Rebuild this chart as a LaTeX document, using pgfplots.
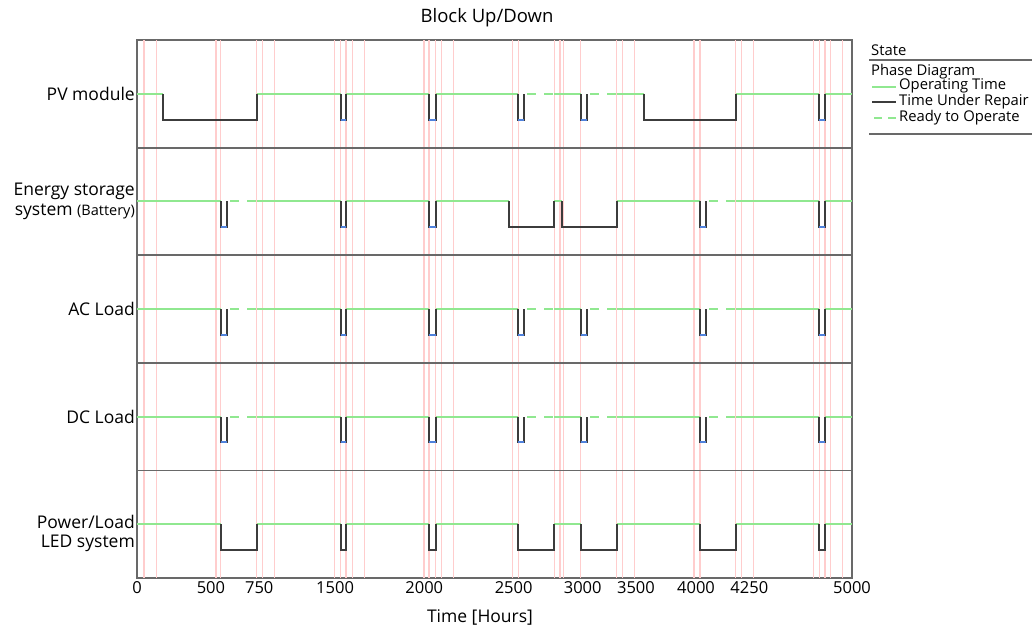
\documentclass[border=0pt]{standalone}
\usepackage{fontspec}
\setmainfont{Open Sans}
\usepackage{pgfplots}
\pgfplotsset{compat=1.18}

\definecolor{opgreen}{RGB}{144,232,144}
\definecolor{repair}{RGB}{60,60,60}
\definecolor{pmblue}{RGB}{80,130,220}
\definecolor{pinkgrid}{RGB}{255,205,205}
\definecolor{divgray}{RGB}{105,105,105}

\begin{document}
\begin{tikzpicture}[x=1pt,y=1pt]
\useasboundingbox (0,0) rectangle (1032,627);
\begin{axis}[
    at={(137pt,49pt)}, anchor=south west,
    width=715pt, height=538pt, scale only axis,
    xmin=0, xmax=5000, ymin=0, ymax=5,
    axis line style={draw=divgray, line width=1.6pt},
    xtick={0,517,855,1385,2009,2634,3117,3489,3909,4282,5000},
    xticklabels={0,500,750,1500,2000,2500,3000,3500,4000,4250,5000},
    xticklabel style={font=\fontsize{16.5}{19}\selectfont},
    /pgf/number format/assume math mode=true,
    ytick={4.5,3.5,2.5,1.5,0.416},
    yticklabels={PV module,{Energy storage\\system {\fontsize{14.5}{16}\selectfont(Battery)}},AC Load,DC Load,{Power/Load\\LED system}},
    yticklabel style={align=right, font=\fontsize{17.5}{19.5}\selectfont, inner sep=2pt},
    major tick length=0pt,
    extra x ticks={49,138,552,585,837,879,963,1382,1424,1462,1508,1590,2007,2042,2089,2131,2212,2627,2666,2918,2958,2981,3103,3354,3396,3478,3895,3937,4187,4229,4310,4729,4771,4811,4851,4935},
    extra x tick labels={},
    extra x tick style={grid=major, major grid style={pinkgrid, line width=1.4pt}},
    extra y ticks={1,2,3,4},
    extra y tick labels={},
    extra y tick style={grid=major, major grid style={divgray, line width=1.8pt}},
    unbounded coords=jump,
]
% operating time
\addplot[opgreen, line width=2pt] coordinates {
 (0,4.5) (180,4.5) (0,nan) (837,4.5) (1424,4.5) (0,nan) (1462,4.5) (2042,4.5) (0,nan)
 (2089,4.5) (2666,4.5) (0,nan) (2918,4.5) (3103,4.5) (0,nan) (3354,4.5) (3546,4.5) (0,nan)
 (4187,4.5) (4771,4.5) (0,nan) (4811,4.5) (5000,4.5) (0,nan)
 (0,3.5) (585,3.5) (0,nan) (837,3.5) (1424,3.5) (0,nan) (1462,3.5) (2042,3.5) (0,nan)
 (2089,3.5) (2601,3.5) (0,nan) (2918,3.5) (2974,3.5) (0,nan) (3354,3.5) (3937,3.5) (0,nan)
 (4187,3.5) (4771,3.5) (0,nan) (4811,3.5) (5000,3.5) (0,nan)
 (0,2.5) (585,2.5) (0,nan) (837,2.5) (1424,2.5) (0,nan) (1462,2.5) (2042,2.5) (0,nan)
 (2089,2.5) (2666,2.5) (0,nan) (2918,2.5) (3103,2.5) (0,nan) (3354,2.5) (3937,2.5) (0,nan)
 (4187,2.5) (4771,2.5) (0,nan) (4811,2.5) (5000,2.5) (0,nan)
 (0,1.5) (585,1.5) (0,nan) (837,1.5) (1424,1.5) (0,nan) (1462,1.5) (2042,1.5) (0,nan)
 (2089,1.5) (2666,1.5) (0,nan) (2918,1.5) (3103,1.5) (0,nan) (3354,1.5) (3937,1.5) (0,nan)
 (4187,1.5) (4771,1.5) (0,nan) (4811,1.5) (5000,1.5) (0,nan)
 (0,0.5) (585,0.5) (0,nan) (837,0.5) (1424,0.5) (0,nan) (1462,0.5) (2042,0.5) (0,nan)
 (2089,0.5) (2666,0.5) (0,nan) (2918,0.5) (3103,0.5) (0,nan) (3354,0.5) (3937,0.5) (0,nan)
 (4187,0.5) (4771,0.5) (0,nan) (4811,0.5) (5000,0.5)
};
% ready to operate
\addplot[opgreen, line width=2pt, dash pattern=on 9pt off 8pt, dash phase=-3pt] coordinates {
 (2708,4.5) (2918,4.5) (0,nan) (3147,4.5) (3354,4.5) (0,nan)
 (631,3.5) (837,3.5) (0,nan) (3979,3.5) (4187,3.5) (0,nan)
 (631,2.5) (837,2.5) (0,nan) (2708,2.5) (2918,2.5) (0,nan) (3147,2.5) (3354,2.5) (0,nan) (3979,2.5) (4187,2.5) (0,nan)
 (631,1.5) (837,1.5) (0,nan) (2708,1.5) (2918,1.5) (0,nan) (3147,1.5) (3354,1.5) (0,nan) (3979,1.5) (4187,1.5)
};
% time under repair (long outages and short dips)
\addplot[repair, line width=2pt] coordinates {
 (180,4.5) (180,4.26) (837,4.26) (837,4.5) (0,nan)
 (3546,4.5) (3546,4.26) (4187,4.26) (4187,4.5) (0,nan)
 (1424,4.5) (1424,4.26) (1462,4.26) (1462,4.5) (0,nan)
 (2042,4.5) (2042,4.26) (2089,4.26) (2089,4.5) (0,nan)
 (2666,4.5) (2666,4.26) (2708,4.26) (2708,4.5) (0,nan)
 (3103,4.5) (3103,4.26) (3147,4.26) (3147,4.5) (0,nan)
 (4771,4.5) (4771,4.26) (4811,4.26) (4811,4.5) (0,nan)
 (2601,3.5) (2601,3.26) (2918,3.26) (2918,3.5) (0,nan)
 (2974,3.5) (2974,3.26) (3354,3.26) (3354,3.5) (0,nan)
 (585,3.5) (585,3.26) (631,3.26) (631,3.5) (0,nan)
 (1424,3.5) (1424,3.26) (1462,3.26) (1462,3.5) (0,nan)
 (2042,3.5) (2042,3.26) (2089,3.26) (2089,3.5) (0,nan)
 (3937,3.5) (3937,3.26) (3979,3.26) (3979,3.5) (0,nan)
 (4771,3.5) (4771,3.26) (4811,3.26) (4811,3.5) (0,nan)
 (585,2.5) (585,2.26) (631,2.26) (631,2.5) (0,nan)
 (1424,2.5) (1424,2.26) (1462,2.26) (1462,2.5) (0,nan)
 (2042,2.5) (2042,2.26) (2089,2.26) (2089,2.5) (0,nan)
 (2666,2.5) (2666,2.26) (2708,2.26) (2708,2.5) (0,nan)
 (3103,2.5) (3103,2.26) (3147,2.26) (3147,2.5) (0,nan)
 (3937,2.5) (3937,2.26) (3979,2.26) (3979,2.5) (0,nan)
 (4771,2.5) (4771,2.26) (4811,2.26) (4811,2.5) (0,nan)
 (585,1.5) (585,1.26) (631,1.26) (631,1.5) (0,nan)
 (1424,1.5) (1424,1.26) (1462,1.26) (1462,1.5) (0,nan)
 (2042,1.5) (2042,1.26) (2089,1.26) (2089,1.5) (0,nan)
 (2666,1.5) (2666,1.26) (2708,1.26) (2708,1.5) (0,nan)
 (3103,1.5) (3103,1.26) (3147,1.26) (3147,1.5) (0,nan)
 (3937,1.5) (3937,1.26) (3979,1.26) (3979,1.5) (0,nan)
 (4771,1.5) (4771,1.26) (4811,1.26) (4811,1.5) (0,nan)
 (585,0.5) (585,0.26) (837,0.26) (837,0.5) (0,nan)
 (2666,0.5) (2666,0.26) (2918,0.26) (2918,0.5) (0,nan)
 (3103,0.5) (3103,0.26) (3354,0.26) (3354,0.5) (0,nan)
 (3937,0.5) (3937,0.26) (4187,0.26) (4187,0.5) (0,nan)
 (1424,0.5) (1424,0.26) (1462,0.26) (1462,0.5) (0,nan)
 (2042,0.5) (2042,0.26) (2089,0.26) (2089,0.5) (0,nan)
 (4771,0.5) (4771,0.26) (4811,0.26) (4811,0.5)
};
% short maintenance bottoms
\addplot[pmblue, line width=2pt] coordinates {
 (1424,4.26) (1462,4.26) (0,nan) (2042,4.26) (2089,4.26) (0,nan) (2666,4.26) (2708,4.26) (0,nan)
 (3103,4.26) (3147,4.26) (0,nan) (4771,4.26) (4811,4.26) (0,nan)
 (585,3.26) (631,3.26) (0,nan) (1424,3.26) (1462,3.26) (0,nan) (2042,3.26) (2089,3.26) (0,nan)
 (3937,3.26) (3979,3.26) (0,nan) (4771,3.26) (4811,3.26) (0,nan)
 (585,2.26) (631,2.26) (0,nan) (1424,2.26) (1462,2.26) (0,nan) (2042,2.26) (2089,2.26) (0,nan)
 (2666,2.26) (2708,2.26) (0,nan) (3103,2.26) (3147,2.26) (0,nan) (3937,2.26) (3979,2.26) (0,nan)
 (4771,2.26) (4811,2.26) (0,nan)
 (585,1.26) (631,1.26) (0,nan) (1424,1.26) (1462,1.26) (0,nan) (2042,1.26) (2089,1.26) (0,nan)
 (2666,1.26) (2708,1.26) (0,nan) (3103,1.26) (3147,1.26) (0,nan) (3937,1.26) (3979,1.26) (0,nan)
 (4771,1.26) (4811,1.26)
};
\end{axis}
% title and axis label
\node[font=\fontsize{18.5}{22}\selectfont] at (487,609) {Block Up/Down};
\node[font=\fontsize{17.5}{20}\selectfont] at (480,10) {Time [Hours]};
% legend
\begin{scope}[every node/.style={anchor=west, inner sep=0pt, font=\fontsize{14.8}{17}\selectfont}]
\node at (871,577) {State};
\draw[divgray, line width=1.3pt] (869,567) -- (1032,567);
\node at (871,555) {Phase Diagram};
\draw[opgreen, line width=2pt] (872,540) -- (896,540);
\node at (899,541) {Operating Time};
\draw[repair, line width=2pt] (872,525) -- (896,525);
\node at (899,525) {Time Under Repair};
\draw[opgreen, line width=2pt, dash pattern=on 8pt off 6pt, dash phase=-2pt] (872,509) -- (896,509);
\node at (899,509) {Ready to Operate};
\draw[divgray, line width=1.3pt] (869,493) -- (1032,493);
\end{scope}
\end{tikzpicture}
\end{document}
